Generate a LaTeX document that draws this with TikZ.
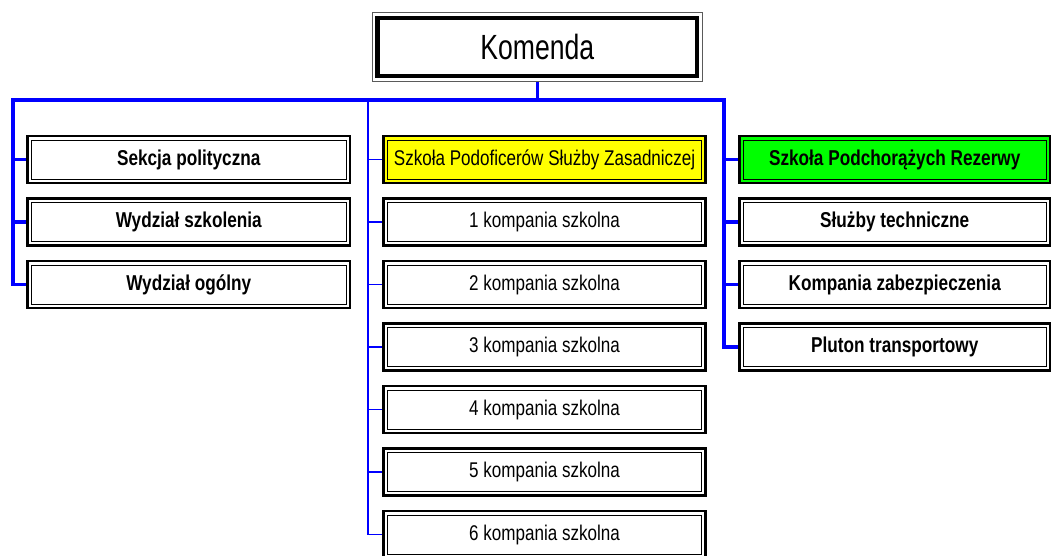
\documentclass[tikz,border=0pt]{standalone}
\usepackage{fontspec}
\newfontfamily\nar[FakeStretch=0.8]{Liberation Sans}
\newfontfamily\narK[FakeStretch=0.76]{Liberation Sans}
\definecolor{lineblue}{RGB}{0,0,255}
\definecolor{boxyellow}{RGB}{255,255,0}
\definecolor{boxgreen}{RGB}{0,255,0}
\definecolor{framegray}{RGB}{90,90,90}
\tikzset{
  unitbox/.style={draw=black, line width=2.8pt, fill=white, inner sep=0pt,
    minimum height=47pt, text=black,
    path picture={\draw[line width=0.9pt,black]
      ([xshift=4pt,yshift=-4pt]path picture bounding box.north west) rectangle
      ([xshift=-4pt,yshift=4pt]path picture bounding box.south east);}},
  leftbox/.style={unitbox, minimum width=322.5pt, font=\nar\bfseries\fontsize{21.5}{25}\selectfont},
  midbox/.style={unitbox, minimum width=322pt, font=\nar\fontsize{21.3}{25}\selectfont},
  rightbox/.style={unitbox, minimum width=310.5pt, font=\nar\bfseries\fontsize{21.5}{25}\selectfont},
  topbox/.style={draw=framegray, line width=1pt, fill=white, inner sep=0pt,
    minimum width=330.5pt, minimum height=69pt, font=\narK\fontsize{35}{40}\selectfont,
    path picture={\draw[line width=4.5pt,black]
      ([xshift=5.5pt,yshift=-5.5pt]path picture bounding box.north west) rectangle
      ([xshift=-5.5pt,yshift=5.5pt]path picture bounding box.south east);}},
  thickblue/.style={draw=lineblue, line width=3.2pt},
  thinblue/.style={draw=lineblue, line width=1.2pt},
}
\begin{document}
\begin{tikzpicture}[x=1pt,y=-1pt]
\useasboundingbox (0,0) rectangle (1053,556);
% coordinates of the bus
\coordinate (jl) at (13,100);
\coordinate (jm) at (368,100);
\coordinate (jr) at (724,100);
% top node
\node[topbox] (kom) at (537.25,47) {Komenda};
% left column
\node[leftbox] (l1) at (188.75,159.5) {Sekcja polityczna};
\node[leftbox] (l2) at (188.75,222) {Wydział szkolenia};
\node[leftbox] (l3) at (188.75,284.5) {Wydział ogólny};
% middle column
\node[midbox, fill=boxyellow] (m1) at (544.5,159.5) {Szkoła Podoficerów Służby Zasadniczej};
\node[midbox] (m2) at (544.5,222) {1 kompania szkolna};
\node[midbox] (m3) at (544.5,284.5) {2 kompania szkolna};
\node[midbox] (m4) at (544.5,347) {3 kompania szkolna};
\node[midbox] (m5) at (544.5,409.5) {4 kompania szkolna};
\node[midbox] (m6) at (544.5,472) {5 kompania szkolna};
\node[midbox] (m7) at (544.5,534.5) {6 kompania szkolna};
% right column
\node[rightbox, fill=boxgreen] (r1) at (894.75,159.5) {Szkoła Podchorążych Rezerwy};
\node[rightbox] (r2) at (894.75,222) {Służby techniczne};
\node[rightbox] (r3) at (894.75,284.5) {Kompania zabezpieczenia};
\node[rightbox] (r4) at (894.75,347) {Pluton transportowy};
% connectors
\draw[thickblue] (kom.south) -- (kom.south |- jl);
\draw[thinblue] (jm) -- (jm |- m7.west) -- (m7.west);
\foreach \n in {m1,m2,m3,m4,m5,m6}{\draw[thinblue] (jm |- \n.west) -- (\n.west);}
\draw[thickblue, line join=miter] (l3.west) -- (jl |- l3.west) -- (jl) -- (jr) -- (jr |- r4.west) -- (r4.west);
\foreach \n in {l1,l2}{\draw[thickblue] (jl |- \n.west) -- (\n.west);}
\foreach \n in {r1,r2,r3}{\draw[thickblue] (jr |- \n.west) -- (\n.west);}
\end{tikzpicture}
\end{document}
